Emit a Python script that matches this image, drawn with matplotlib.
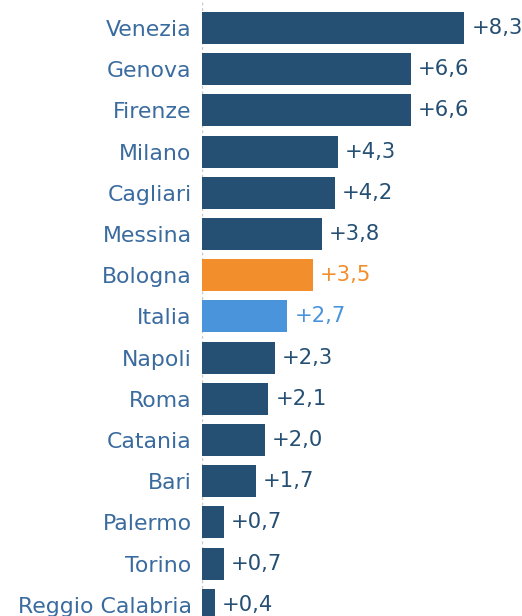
import matplotlib
matplotlib.use("Agg")
import matplotlib.pyplot as plt

cities = ["Venezia", "Genova", "Firenze", "Milano", "Cagliari", "Messina", "Bologna",
          "Italia", "Napoli", "Roma", "Catania", "Bari", "Palermo", "Torino", "Reggio Calabria"]
values = [8.3, 6.6, 6.6, 4.3, 4.2, 3.8, 3.5, 2.7, 2.3, 2.1, 2.0, 1.7, 0.7, 0.7, 0.4]

DARK = "#254f73"
ORANGE = "#f28e2b"
LIGHT = "#4a94dc"
LABEL_COLOR = "#3a6b9f"

colors = []
for c in cities:
    if c == "Bologna":
        colors.append(ORANGE)
    elif c == "Italia":
        colors.append(LIGHT)
    else:
        colors.append(DARK)

plt.rcParams['font.family'] = ['DejaVu Sans']

W, H = 522, 616
fig = plt.figure(figsize=(W / 100, H / 100), dpi=100)
x0 = 202
ax = fig.add_axes([x0 / W, 0, (W - x0) / W, 1])

pxu = 31.6  # pixels per unit
pitch = 41.2
top_center = 28
ax.set_xlim(0, (W - x0) / pxu)
ax.set_ylim((H - top_center) / pitch, -top_center / pitch)

ypos = list(range(len(cities)))
ax.barh(ypos, values, height=0.78, color=colors, zorder=2)

for y, v, col in zip(ypos, values, colors):
    ax.text(v + 7 / pxu, y, "+" + f"{v:.1f}".replace(".", ","), va="center", ha="left",
            fontsize=15.2, color=col)

ax.set_yticks(ypos)
ax.set_yticklabels(cities, fontsize=15.8, color=LABEL_COLOR)
ax.tick_params(axis="y", length=0, pad=7.5)
ax.set_xticks([])
for s in ax.spines.values():
    s.set_visible(False)
ax.axvline(0, color="#c8c8c8", linestyle=(0, (2, 2)), linewidth=1, zorder=1)

fig.savefig("out.png", dpi=100)
